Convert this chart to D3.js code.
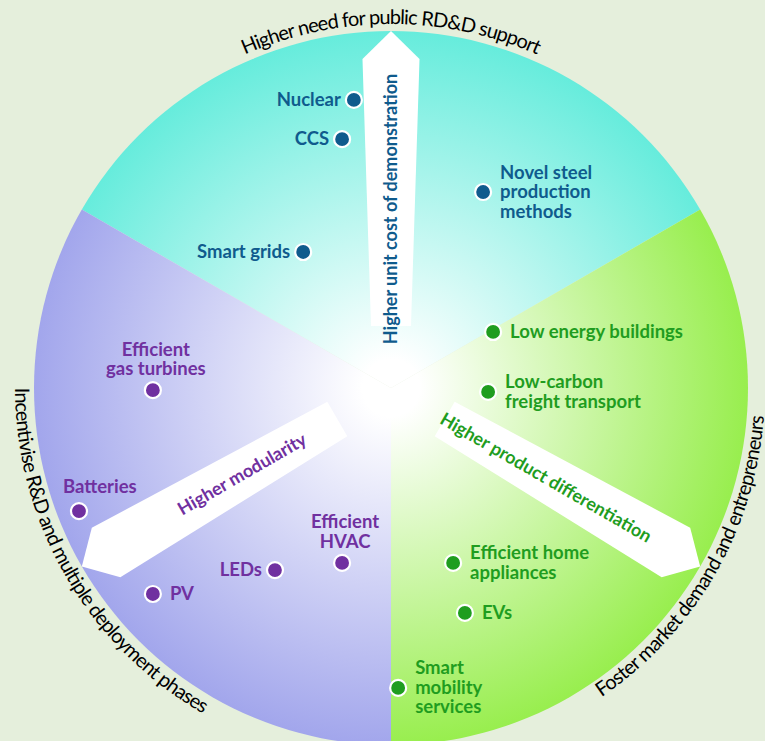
<!DOCTYPE html>
<html><head><meta charset="utf-8">
<script src="https://cdn.jsdelivr.net/npm/d3@7"></script>
<style>html,body{margin:0;padding:0;background:#e5efdc;overflow:hidden}</style>
</head><body><svg id="c" width="765" height="741"></svg>
<script>
// ---- data ----
const sectorNames = ["demonstration", "market", "deployment"];
const sectorStart = [-60, 60, 180];   // degrees clockwise from 12 o'clock
const sectorEnd = [60, 180, 300];
const sectorColors = ["#66ecdc", "#98ee4e", "#a2a6ec"];
const textColors = ["#0f5b8d", "#1f9d1f", "#7030a0"];
const arrowAngles = [0, 120, 240];
const arrowLabels = ["Higher unit cost of demonstration", "Higher product differentiation", "Higher modularity"];
const outerLabels = ["Higher need for public RD&D support", "Foster market demand and entrepreneurs", "Incentivise R&D and multiple deployment phases"];

const techNames = ["Nuclear", "CCS", "Smart grids", "Novel steel\nproduction\nmethods",
  "Low energy buildings", "Low-carbon\nfreight transport", "Efficient home\nappliances", "EVs", "Smart\nmobility\nservices",
  "Efficient\ngas turbines", "Batteries", "PV", "LEDs", "Efficient\nHVAC"];
const techGroup = [0, 0, 0, 0, 1, 1, 1, 1, 1, 2, 2, 2, 2, 2];
const techX = [-10.4, -13.7, -24.6, 25.8, 28.6, 27.2, 17.4, 20.7, 2.0, -66.7, -87.4, -66.7, -32.5, -13.7];
const techY = [80.7, 69.7, 38.1, 54.9, 15.7, -1.1, -49.0, -63.0, -84.0, -0.6, -34.5, -57.7, -51.0, -49.0];
const techSide = ["left", "left", "left", "right", "right", "right", "right", "right", "right",
  "above", "above-start", "right", "left", "above"];

// ---- layout ----
const W = 765, H = 741, cx = 391, cy = 388, R = 357;
const svg = d3.select("#c");
svg.append("rect").attr("width", W).attr("height", H).attr("fill", "#e5efdc");
const x = d3.scaleLinear().domain([-100, 100]).range([cx - R, cx + R]);
const y = d3.scaleLinear().domain([-100, 100]).range([cy + R, cy - R]);
const rad = d => d * Math.PI / 180;
const pt = (a, r) => [cx + r * Math.sin(rad(a)), cy - r * Math.cos(rad(a))];
const font = "Lato, 'Open Sans', sans-serif";

const defs = svg.append("defs");
sectorColors.forEach((c, i) => {
  const g = defs.append("radialGradient").attr("id", "g" + i)
    .attr("gradientUnits", "userSpaceOnUse").attr("cx", 0).attr("cy", 0).attr("r", R);
  g.append("stop").attr("offset", "0.08").attr("stop-color", "#ffffff");
  g.append("stop").attr("offset", "1").attr("stop-color", c);
});

const arc = d3.arc().innerRadius(0).outerRadius(R);
const gMain = svg.append("g").attr("transform", `translate(${cx},${cy})`);
sectorNames.forEach((n, i) => {
  gMain.append("path")
    .attr("d", arc({startAngle: rad(sectorStart[i]), endAngle: rad(sectorEnd[i])}))
    .attr("fill", `url(#g${i})`);
});

// arrows
arrowAngles.forEach((a, i) => {
  const t0 = 62, tS = 329, tT = R;
  const hw = t => 18 + 0.032 * t;
  const P = (t, s) => {
    const ux = Math.sin(rad(a)), uy = -Math.cos(rad(a));
    const vx = -uy, vy = ux;
    return [cx + ux * t + vx * s, cy + uy * t + vy * s];
  };
  const poly = [P(t0, -hw(t0)), P(tS, -hw(tS)), P(tT, 0), P(tS, hw(tS)), P(t0, hw(t0))];
  svg.append("path").attr("d", "M" + poly.map(p => p.join(",")).join("L") + "Z").attr("fill", "#ffffff");
  const tc = i === 2 ? 172 : 179;
  const c = P(tc, 0);
  const rot = a === 0 ? -90 : (a < 180 ? a - 90 : a - 270);
  svg.append("text").attr("transform", `translate(${c[0]},${c[1]}) rotate(${rot})`)
    .attr("text-anchor", "middle").attr("dy", "0.35em")
    .attr("font-family", font).attr("font-weight", 700).attr("font-size", 18)
    .attr("fill", textColors[i]).text(arrowLabels[i]);
});

// outer curved labels
const outerMid = [0, 120, 240];
const outerR = [364, 374, 376];
const outerLen = [301, 336, 394];
outerLabels.forEach((l, i) => {
  const m = outerMid[i], r = outerR[i];
  let p1, p2, sweep;
  if (i === 0) { p1 = pt(m - 90, r); p2 = pt(m + 90, r); sweep = 1; }
  else { p1 = pt(m + 60, r); p2 = pt(m - 60, r); sweep = 0; }
  defs.append("path").attr("id", "op" + i)
    .attr("d", `M${p1[0]},${p1[1]} A${r},${r} 0 0 ${sweep} ${p2[0]},${p2[1]}`);
  svg.append("text").attr("font-family", font).attr("font-size", 20).attr("fill", "#000")
    .append("textPath").attr("href", "#op" + i).attr("startOffset", "50%")
    .attr("text-anchor", "middle").attr("textLength", outerLen[i]).attr("lengthAdjust", "spacing")
    .text(l);
});

// technology dots + labels
const LH = 19.5;
techNames.forEach((n, i) => {
  const px = x(techX[i]), py = y(techY[i]);
  const col = textColors[techGroup[i]];
  svg.append("circle").attr("cx", px).attr("cy", py).attr("r", 8)
    .attr("fill", col).attr("stroke", "#fff").attr("stroke-width", 2.2);
  const lines = n.split("\n");
  const side = techSide[i];
  let tx, anchor, firstBase;
  if (side === "left" || side === "right") {
    tx = side === "left" ? px - 13 : px + 17;
    anchor = side === "left" ? "end" : "start";
    firstBase = py + 6 - (lines.length - 1) * LH / 2;
  } else if (side === "above") {
    tx = px + 3; anchor = "middle";
    firstBase = py - 15 - (lines.length - 1) * LH;
  } else {
    tx = px - 16; anchor = "start";
    firstBase = py - 18 - (lines.length - 1) * LH;
  }
  const t = svg.append("text").attr("font-family", font).attr("font-weight", 700)
    .attr("font-size", 18.5).attr("fill", col).attr("text-anchor", anchor);
  lines.forEach((ln, k) => t.append("tspan").attr("x", tx).attr("y", firstBase + k * LH).text(ln));
});
</script></body></html>
